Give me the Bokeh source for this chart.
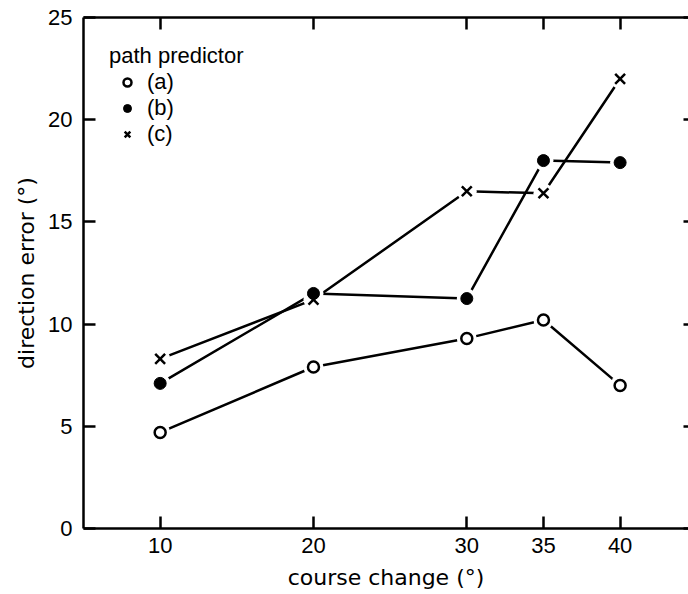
from bokeh.plotting import figure
from bokeh.models import (Range1d, FixedTicker, LinearAxis, Legend, LegendItem)
from bokeh.embed import file_html
from bokeh.resources import INLINE

# ---- data ----
course_change = [10, 20, 30, 35, 40]
err_a = [4.7, 7.9, 9.3, 10.2, 7.0]
err_b = [7.1, 11.5, 11.25, 18.0, 17.9]
err_c = [8.3, 11.2, 16.5, 16.4, 22.0]
series_labels = ["(a)", "(b)", "(c)"]
x_ticks = [10, 20, 30, 35, 40]
y_ticks = [0, 5, 10, 15, 20, 25]
legend_title = "path predictor"
x_title = "course change (°)"
y_title = "direction error (°)"

FONT = "Liberation Sans"
LABEL_FONT = "DejaVu Sans"
LW = 2.5

p = figure(width=688, height=594, output_backend="svg", toolbar_location=None,
           x_range=Range1d(5, 44.46), y_range=Range1d(0, 25),
           min_border_left=83, min_border_top=17, min_border_right=0,
           min_border_bottom=66)
p.grid.visible = False
p.outline_line_color = None
p.background_fill_color = "white"

def style_axis(ax, ticks, labels=True):
    ax.ticker = FixedTicker(ticks=ticks)
    ax.major_tick_in = 12
    ax.major_tick_out = 0
    ax.minor_tick_line_color = None
    ax.major_tick_line_width = LW
    ax.major_tick_line_color = "black"
    ax.axis_line_width = LW
    ax.axis_line_color = "black"
    ax.major_label_text_font = FONT
    ax.major_label_text_color = "black"
    if labels:
        ax.major_label_text_font_size = "22px"
    else:
        ax.major_label_overrides = {t: "" for t in ticks}
        ax.major_label_standoff = 0

xa = p.xaxis[0]
ya = p.yaxis[0]
style_axis(xa, x_ticks)
style_axis(ya, y_ticks)
xa.major_label_standoff = 9
ya.major_label_standoff = 11
xa.axis_label = x_title
ya.axis_label = y_title
for ax in (xa, ya):
    ax.axis_label_text_font = LABEL_FONT
    ax.axis_label_text_font_size = "22px"
    ax.axis_label_text_font_style = "normal"
    ax.axis_label_text_color = "black"
xa.axis_label_standoff = 9
ya.axis_label_standoff = 6

top = LinearAxis()
style_axis(top, x_ticks, labels=False)
p.add_layout(top, "above")
right = LinearAxis()
style_axis(right, y_ticks, labels=False)
right.axis_line_color = None
right.major_tick_in = 5
p.add_layout(right, "right")

# lines
for ys in (err_a, err_b, err_c):
    p.line(course_change, ys, line_color="black", line_width=LW)
# white masks to create gaps around markers
for ys in (err_a, err_b, err_c):
    p.scatter(course_change, ys, marker="circle", size=20,
              fill_color="white", line_color=None)
# markers
ra = p.scatter(course_change, err_a, marker="circle", size=11,
               fill_color="white", line_color="black", line_width=LW)
rb = p.scatter(course_change, err_b, marker="circle", size=12,
               fill_color="black", line_color="black", line_width=1)
rc = p.scatter(course_change, err_c, marker="x", size=14,
               line_color="black", line_width=LW)

legend = Legend(items=[LegendItem(label=series_labels[0], renderers=[ra]),
                       LegendItem(label=series_labels[1], renderers=[rb]),
                       LegendItem(label=series_labels[2], renderers=[rc])],
                location="top_left", title=legend_title)
legend.title_text_font = FONT
legend.title_text_font_size = "22px"
legend.title_text_font_style = "normal"
legend.title_text_color = "black"
legend.title_standoff = 0
legend.label_text_font = FONT
legend.label_text_font_size = "22px"
legend.label_text_color = "black"
legend.glyph_width = 36
legend.glyph_height = 20
legend.label_height = 20
legend.label_standoff = 2
legend.spacing = -5
legend.margin = 26
legend.padding = 5
legend.border_line_color = None
legend.background_fill_alpha = 0
p.add_layout(legend)

open("out.html", "w").write(file_html(p, INLINE))
